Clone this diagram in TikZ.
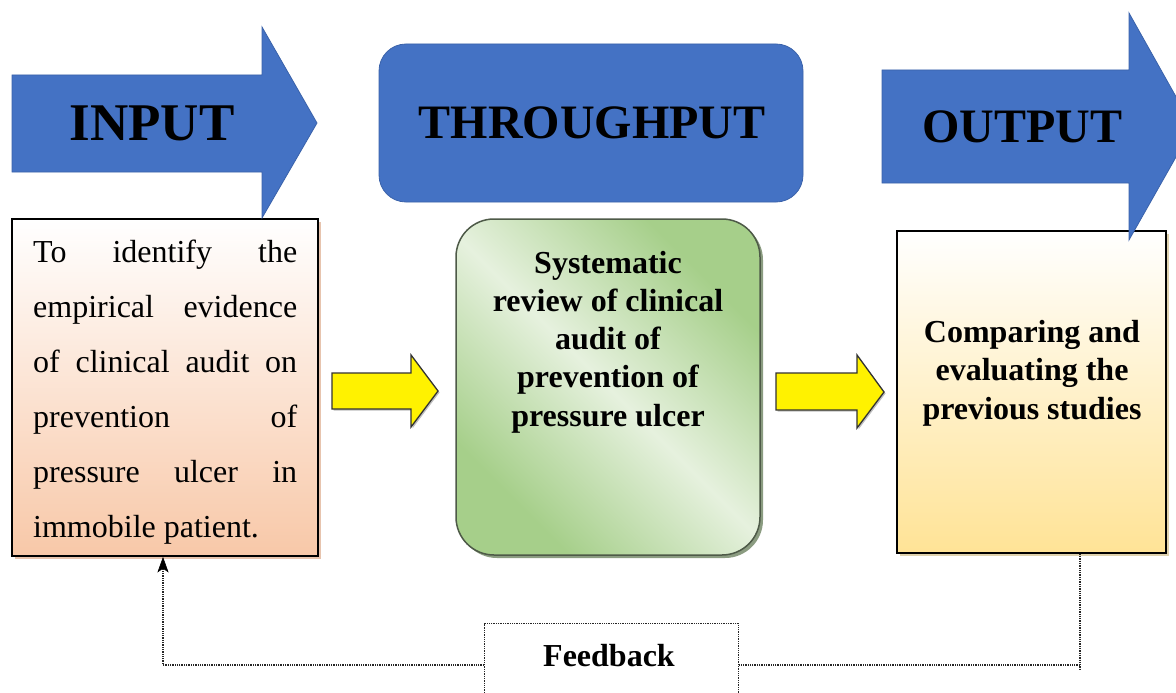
\documentclass[tikz,border=0pt]{standalone}
\usepackage{fontspec}
\setmainfont{Liberation Serif}
\usetikzlibrary{shadows,arrows.meta}
\definecolor{blueA}{HTML}{4472C4}
\definecolor{blueB}{HTML}{3A62AA}
\definecolor{peach}{HTML}{F8C8A8}
\definecolor{peachS}{HTML}{E2B69A}
\definecolor{gA}{HTML}{A6CF8A}
\definecolor{gL}{HTML}{E6F1DE}
\definecolor{gBorder}{HTML}{4E5A48}
\definecolor{goldL}{HTML}{FFE396}
\definecolor{goldS}{HTML}{D8C79A}
\pgfdeclarehorizontalshading{greendiag}{100bp}{color(0bp)=(gA); color(27bp)=(gA); color(50bp)=(gL); color(73bp)=(gA); color(100bp)=(gA)}
\tikzset{
  bigarrow/.style={fill=blueA, draw=blueB, line width=0.8},
  yarrow/.style={fill=yellow, draw=black!80, line width=1.3, line join=miter,
    drop shadow={shadow xshift=1.5pt, shadow yshift=-1.5pt, fill=black!55, opacity=0.45}},
  title/.style={anchor=base, inner sep=0, font=\bfseries},
  fbline/.style={draw=black!85, densely dotted, line width=1.3},
  fbtip/.style={fill=black, draw=black, line width=0.6, line join=miter},
}
\begin{document}
\begin{tikzpicture}[x=1pt,y=-1pt]
\path[use as bounding box] (0,0) rectangle (1176,693);
\clip (0,0) rectangle (1176,693);
\fill[white] (0,0) rectangle (1176,693);

% boxes
\node[rectangle, draw=black, line width=1.5, top color=white, bottom color=peach,
  minimum width=306, minimum height=337, inner sep=0,
  drop shadow={shadow xshift=3pt, shadow yshift=-3pt, fill=peachS, opacity=0.8}]
  (inbox) at (165,387.5) {};
\node[rectangle, rounded corners=38, draw=gBorder, line width=1.5, shading=greendiag, shading angle=45,
  minimum width=304, minimum height=336, inner sep=0,
  drop shadow={shadow xshift=3pt, shadow yshift=-3pt, fill=black!45!gA, opacity=0.7}]
  (procbox) at (608,387) {};
\node[rectangle, draw=black, line width=1.5, top color=white, bottom color=goldL,
  minimum width=269, minimum height=322, inner sep=0,
  drop shadow={shadow xshift=3pt, shadow yshift=-3pt, fill=goldS, opacity=0.8}]
  (outbox) at (1031.5,392) {};

% big blue arrows and throughput box
\path[bigarrow] (12,75) -- (262,75) -- (262,27) -- (317,123) -- (262,218) -- (262,172) -- (12,172) -- cycle;
\node[rectangle, rounded corners=27, fill=blueA, draw=blueB, line width=0.8,
  minimum width=424, minimum height=158, inner sep=0] (thrbox) at (591,123) {};
\path[bigarrow] (882,70) -- (1129,70) -- (1129,13) -- (1193,127) -- (1129,240) -- (1129,183) -- (882,183) -- cycle;

\node[title, font=\fontsize{53}{60}\selectfont\bfseries] (tin) at (152,140) {INPUT};
\node[title, font=\fontsize{48}{56}\selectfont\bfseries] (tthr) at (592,138) {THROUGHPUT};
\node[title, font=\fontsize{48}{56}\selectfont\bfseries] (tout) at (1022,142) {OUTPUT};

% yellow block arrows
\path[yarrow] (332,373) -- (411,373) -- (411,355) -- (438,391) -- (411,427) -- (411,409) -- (332,409) -- cycle;
\path[yarrow] (776,373) -- (857,373) -- (857,355) -- (884,392) -- (857,428) -- (857,410) -- (776,410) -- cycle;

% texts
\node[anchor=base west, inner sep=0] (intext) at (33,262) {\parbox[t]{264pt}{\fontsize{32}{55}\selectfont
  \makebox[264pt][s]{To identify the}\\
  \makebox[264pt][s]{empirical evidence}\\
  \makebox[264pt][s]{of clinical audit on}\\
  \makebox[264pt][s]{prevention of}\\
  \makebox[264pt][s]{pressure ulcer in}\\
  immobile patient.}};
\node[anchor=base, inner sep=0] (proctext) at (608,273) {\parbox[t]{300pt}{\centering\fontsize{32}{38.3}\selectfont\bfseries
  Systematic\\review of clinical\\audit of\\prevention of\\pressure ulcer}};
\node[anchor=base, inner sep=0] (outtext) at (1032,342) {\parbox[t]{266pt}{\centering\fontsize{32}{38.5}\selectfont\bfseries
  Comparing and\\evaluating the\\previous studies}};

% feedback
\node[draw=black!85, densely dotted, line width=1.3, minimum width=254, minimum height=130,
  anchor=north west, inner sep=0] (fbbox) at (484,623) {};
\node[title, font=\fontsize{32}{36}\selectfont\bfseries] (fbtext) at (609,666) {Feedback};
\coordinate (rEnd) at (1080,671);
\coordinate (hY) at (0,665);
\coordinate (xL) at (163,0);
\draw[fbline] (outbox.south -| rEnd) -- (rEnd);
\draw[fbline] (rEnd |- hY) -- (fbbox.east |- hY);
\draw[fbline] (fbbox.west |- hY) -| ([yshift=-10pt]inbox.south -| xL);
\path[fbtip] ([yshift=-1pt]inbox.south -| xL) -- ++(-5,14) -- ++(5,-3.5) -- ++(5,3.5) -- cycle;
\end{tikzpicture}
\end{document}
